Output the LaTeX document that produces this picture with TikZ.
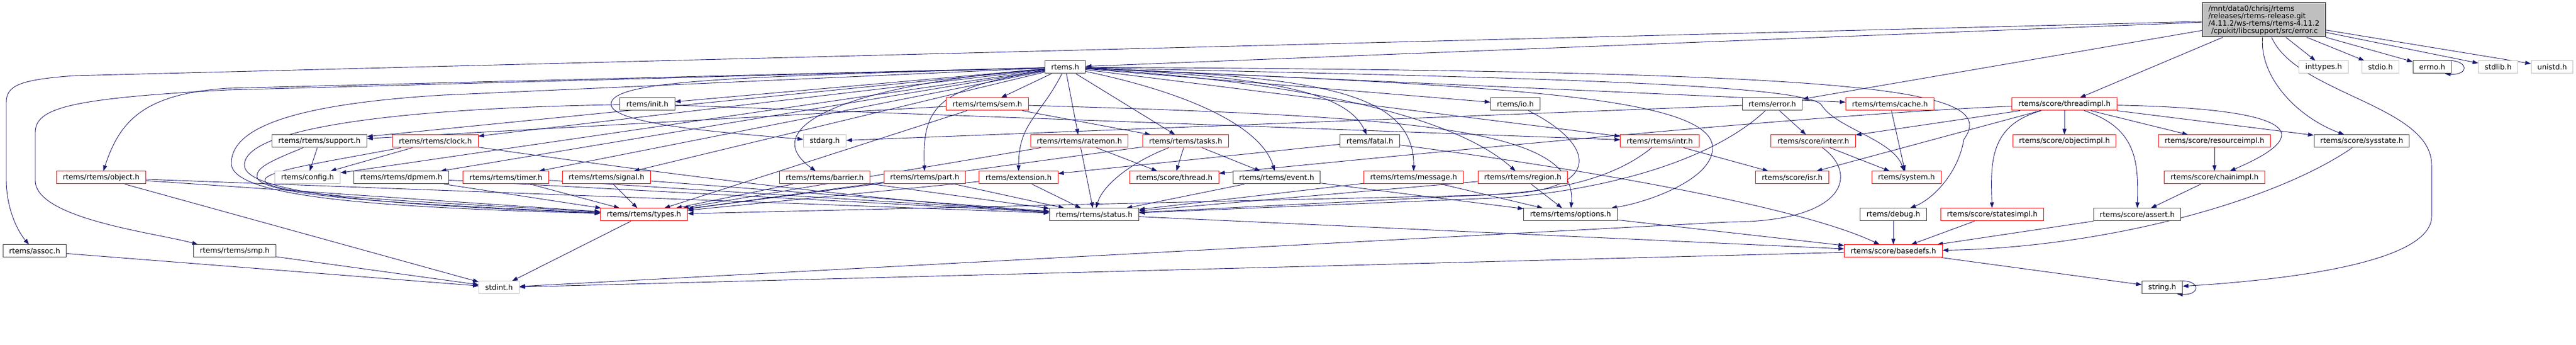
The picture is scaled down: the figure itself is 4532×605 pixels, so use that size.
\documentclass[tikz,border=0pt]{standalone}
\usepackage{fontspec}
\setmainfont{DejaVu Sans}
\usetikzlibrary{arrows.meta}
\usetikzlibrary{backgrounds}

\definecolor{depblue}{HTML}{191970}

\begin{document}
\begin{tikzpicture}[x=1pt, y=1pt,
    hdrbox/.style={rectangle, draw, fill=white, line width=1pt, minimum height=22pt, inner xsep=11pt, inner ysep=0pt, font=\fontsize{12.8}{13}\selectfont},
    redbox/.style={hdrbox, draw=red},
    blackbox/.style={hdrbox, draw=black!75},
    sysbox/.style={hdrbox, draw=black!25},
    dep/.style={draw=depblue, line width=0.9pt, -{Triangle[length=10pt, width=7pt]}}]

    \useasboundingbox (0,0) rectangle (4532,605);

    % Nodes
    \node[hdrbox, draw=black, fill=black!25, align=left, minimum width=216pt, minimum height=60pt] (errorc) at (3983,570)
      {/mnt/data0/chrisj/rtems\\/releases/rtems-release.git\\/4.11.2/ws-rtems/rtems-4.11.2\\\hspace*{5pt}/cpukit/libcsupport/src/error.c};

    \node[blackbox] (rtemsh) at (1874,487) {rtems.h};
    \node[sysbox] (inttypesh) at (4088,487) {inttypes.h};
    \node[sysbox] (stdioh) at (4188,487) {stdio.h};
    \node[blackbox] (errnoh) at (4279,487) {errno.h};
    \node[sysbox] (stdlibh) at (4395,487) {stdlib.h};
    \node[sysbox] (unistdh) at (4490,487) {unistd.h};

    \node[blackbox] (inith) at (1139,422) {rtems/init.h};
    \node[redbox] (semh) at (1737,422) {rtems/rtems/sem.h};
    \node[blackbox] (ioh) at (2666,422) {rtems/io.h};
    \node[blackbox] (errorh) at (3118,422) {rtems/error.h};
    \node[redbox] (cacheh) at (3325,422) {rtems/rtems/cache.h};
    \node[redbox] (threadimplh) at (3632,422) {rtems/score/threadimpl.h};

    \node[blackbox] (supporth) at (562,357) {rtems/rtems/support.h};
    \node[redbox] (clockh) at (766,357) {rtems/rtems/clock.h};
    \node[sysbox] (stdargh) at (1451,357) {stdarg.h};
    \node[redbox] (ratemonh) at (1899,357) {rtems/rtems/ratemon.h};
    \node[redbox] (tasksh) at (2086,357) {rtems/rtems/tasks.h};
    \node[blackbox] (fatalh) at (2410,357) {rtems/fatal.h};
    \node[redbox] (intrh) at (2920,357) {rtems/rtems/intr.h};
    \node[redbox] (interrh) at (3190,357) {rtems/score/interr.h};
    \node[redbox] (objectimplh) at (3632,357) {rtems/score/objectimpl.h};
    \node[redbox] (resourceimplh) at (3896,357) {rtems/score/resourceimpl.h};
    \node[blackbox] (sysstateh) at (4155,357) {rtems/score/sysstate.h};

    \node[redbox] (objecth) at (178,293) {rtems/rtems/object.h};
    \node[sysbox] (configh) at (541,293) {rtems/config.h};
    \node[blackbox] (dpmemh) at (706,293) {rtems/rtems/dpmem.h};
    \node[redbox] (timerh) at (890,293) {rtems/rtems/timer.h};
    \node[redbox] (signalh) at (1067,293) {rtems/rtems/signal.h};
    \node[redbox] (barrierh) at (1451,293) {rtems/rtems/barrier.h};
    \node[redbox] (parth) at (1627,293) {rtems/rtems/part.h};
    \node[redbox] (extensionh) at (1792,293) {rtems/extension.h};
    \node[redbox] (threadh) at (2066,293) {rtems/score/thread.h};
    \node[blackbox] (eventh) at (2246,293) {rtems/rtems/event.h};
    \node[redbox] (messageh) at (2487,293) {rtems/rtems/message.h};
    \node[redbox] (regionh) at (2679,293) {rtems/rtems/region.h};
    \node[redbox] (isrh) at (3153,293) {rtems/score/isr.h};
    \node[redbox] (systemh) at (3354,293) {rtems/system.h};
    \node[redbox] (chainimplh) at (3896,293) {rtems/score/chainimpl.h};

    \node[redbox] (typesh) at (1133,228) {rtems/rtems/types.h};
    \node[blackbox] (statush) at (1925,228) {rtems/rtems/status.h};
    \node[blackbox] (optionsh) at (2763,228) {rtems/rtems/options.h};
    \node[blackbox] (debugh) at (3331,228) {rtems/debug.h};
    \node[redbox] (statesimplh) at (3505,228) {rtems/score/statesimpl.h};
    \node[blackbox] (asserth) at (3760,228) {rtems/score/assert.h};

    \node[blackbox] (assoch) at (61,164) {rtems/assoc.h};
    \node[blackbox] (smph) at (413,164) {rtems/rtems/smp.h};
    \node[redbox] (basedefsh) at (3331,164) {rtems/score/basedefs.h};

    \node[sysbox] (stdinth) at (878,100) {stdint.h};
    \node[blackbox] (stringh) at (3804,100) {string.h};

    % Includes
    \begin{scope}[on background layer]
      % error.c
      \draw[dep] (errorc) -- (rtemsh);
      \draw[dep] (errorc) -- (errorh);
      \draw[dep] (errorc) -- (threadimplh);
      \draw[dep] (errorc) -- (inttypesh);
      \draw[dep] (errorc) -- (stdioh);
      \draw[dep] (errorc) -- (errnoh);
      \draw[dep] (errorc) -- (stdlibh);
      \draw[dep] (errorc) -- (unistdh);
      \draw[dep] (errorc) .. controls (3975,470) and (4040,400) .. (sysstateh);
      \draw[dep] (errorc) .. controls (4040,440) and (4278,420) .. (4278,315) -- (4278,225) .. controls (4278,140) and (4000,112) .. (stringh);
      \draw[dep] (errorc) -- (130,472) .. controls (35,465) and (11,455) .. (11,425) -- (11,290) .. controls (11,240) and (30,200) .. (assoch);
      \draw[dep] ([xshift=-14pt]errnoh.north east) .. controls (4345,502) and (4345,472) .. ([xshift=-12pt]errnoh.south east);
      \draw[dep] ([xshift=-6pt]stringh.north east) .. controls (3872,114) and (3872,86) .. ([xshift=-10pt]stringh.south east);

      % rtems.h
      \draw[dep] (rtemsh) -- (inith);
      \draw[dep] (rtemsh) -- (semh);
      \draw[dep] (rtemsh) -- (ioh);
      \draw[dep] (rtemsh) -- (cacheh);
      \draw[dep] (rtemsh) -- (supporth);
      \draw[dep] (rtemsh) -- (clockh);
      \draw[dep] (rtemsh) -- (configh);
      \draw[dep] (rtemsh) -- (dpmemh);
      \draw[dep] (rtemsh) -- (timerh);
      \draw[dep] (rtemsh) -- (signalh);
      \draw[dep] (rtemsh) -- (ratemonh);
      \draw[dep] (rtemsh) -- (tasksh);
      \draw[dep] (rtemsh) -- (intrh);
      \draw[dep] (rtemsh) -- (400,450) .. controls (250,440) and (210,390) .. (objecth);
      \draw[dep] (rtemsh) -- (400,447) .. controls (120,432) and (62,415) .. (62,372) -- (62,288) .. controls (62,220) and (280,195) .. ([xshift=8pt]smph.north west);
      \draw[dep] (rtemsh) -- (780,438) .. controls (480,420) and (407,370) .. (407,318) .. controls (407,255) and (700,240) .. (typesh);
      \draw[dep] (rtemsh) .. controls (1300,470) and (1075,465) .. (1075,422) .. controls (1075,385) and (1300,370) .. (stdargh);
      \draw[dep] (rtemsh) .. controls (1480,455) and (1330,380) .. (barrierh);
      \draw[dep] (rtemsh) .. controls (1650,450) and (1622,420) .. (parth);
      \draw[dep] (rtemsh) .. controls (1830,400) and (1792,390) .. (extensionh);
      \draw[dep] (rtemsh) .. controls (2100,440) and (2220,380) .. (eventh);
      \draw[dep] (rtemsh) .. controls (2250,470) and (2370,440) .. (fatalh);
      \draw[dep] (rtemsh) .. controls (2300,470) and (2488,450) .. (messageh);
      \draw[dep] (rtemsh) .. controls (2300,460) and (2560,400) .. (regionh);
      \draw[dep] (rtemsh) .. controls (2600,470) and (3180,460) .. (3205,420) .. controls (3230,380) and (3330,360) .. (systemh);
      \draw[dep] (rtemsh) .. controls (3300,480) and (3520,450) .. (3455,360) .. controls (3445,300) and (3400,255) .. (debugh);
      \draw[dep] (rtemsh) .. controls (2600,455) and (3013,440) .. (3013,345) .. controls (3013,290) and (2900,250) .. (optionsh);

      % sem.h, ratemon.h, tasks.h
      \draw[dep] (semh) -- (supporth);
      \draw[dep] (semh) -- (tasksh);
      \draw[dep] (semh) -- (typesh);
      \draw[dep] (semh) .. controls (2500,400) and (2775,380) .. (optionsh);
      \draw[dep] (ratemonh) -- (statush);
      \draw[dep] (ratemonh) -- (threadh);
      \draw[dep] (ratemonh) -- (typesh);
      \draw[dep] (tasksh) -- (threadh);
      \draw[dep] (tasksh) -- (eventh);
      \draw[dep] (tasksh) -- (typesh);
      \draw[dep] (tasksh) .. controls (1990,320) and (1940,280) .. (statush);

      % fatal.h, io.h, intr.h, init.h
      \draw[dep] (fatalh) -- (extensionh);
      \draw[dep] (fatalh) .. controls (2700,320) and (3150,250) .. (basedefsh);
      \draw[dep] (ioh) .. controls (2810,350) and (2815,275) .. (2660,265) -- (statush);
      \draw[dep] (intrh) -- (isrh);
      \draw[dep] (intrh) .. controls (2850,300) and (2760,268) .. (2600,262) -- (typesh);
      \draw[dep] (inith) -- (intrh);
      \draw[dep] (inith) .. controls (700,415) and (430,380) .. (430,315) .. controls (430,258) and (760,242) .. (typesh);

      % error.h
      \draw[dep] (errorh) -- (stdargh);
      \draw[dep] (errorh) -- (interrh);
      \draw[dep] (errorh) .. controls (3020,330) and (2850,275) .. (2650,258) -- (statush);

      % threadimpl.h
      \draw[dep] (threadimplh) -- (objectimplh);
      \draw[dep] (threadimplh) -- (resourceimplh);
      \draw[dep] (threadimplh) -- (sysstateh);
      \draw[dep] (threadimplh) -- (interrh);
      \draw[dep] (threadimplh) -- (isrh);
      \draw[dep] (threadimplh) .. controls (3200,405) and (2500,335) .. (threadh);
      \draw[dep] (threadimplh) .. controls (3500,385) and (3502,320) .. (statesimplh);
      \draw[dep] (threadimplh) .. controls (3760,380) and (3762,320) .. (asserth);
      \draw[dep] (threadimplh) .. controls (4000,415) and (4100,380) .. (chainimplh);

      % score headers
      \draw[dep] (interrh) -- (systemh);
      \draw[dep] (interrh) .. controls (3270,300) and (3250,215) .. (3040,215) -- (stdinth);
      \draw[dep] (cacheh) -- (systemh);
      \draw[dep] (resourceimplh) -- (chainimplh);
      \draw[dep] (chainimplh) -- (asserth);
      \draw[dep] (sysstateh) .. controls (4000,250) and (3700,170) .. (basedefsh);

      % support.h, clock.h
      \draw[dep] (supporth) -- (configh);
      \draw[dep] (supporth) .. controls (470,320) and (452,310) .. (452,295) .. controls (452,258) and (750,245) .. (typesh);
      \draw[dep] (clockh) -- (configh);
      \draw[dep] (clockh) .. controls (560,318) and (466,305) .. (466,288) .. controls (466,260) and (800,248) .. (typesh);
      \draw[dep] (clockh) .. controls (1100,310) and (1500,255) .. (statush);

      % manager headers
      \draw[dep] (objecth) -- (typesh);
      \draw[dep] (objecth) -- (statush);
      \draw[dep] (objecth) -- (stdinth);
      \draw[dep] (dpmemh) -- (typesh);
      \draw[dep] (dpmemh) -- (statush);
      \draw[dep] (timerh) -- (typesh);
      \draw[dep] (timerh) -- (statush);
      \draw[dep] (signalh) -- (typesh);
      \draw[dep] (signalh) -- (statush);
      \draw[dep] (barrierh) -- (typesh);
      \draw[dep] (barrierh) -- (statush);
      \draw[dep] (parth) -- (typesh);
      \draw[dep] (parth) -- (statush);
      \draw[dep] (extensionh) -- (typesh);
      \draw[dep] (extensionh) -- (statush);
      \draw[dep] (eventh) -- (statush);
      \draw[dep] (eventh) -- (optionsh);
      \draw[dep] (messageh) -- (statush);
      \draw[dep] (messageh) -- (optionsh);
      \draw[dep] (regionh) -- (statush);
      \draw[dep] (regionh) -- (optionsh);

      % bottom rows
      \draw[dep] (typesh) -- (stdinth);
      \draw[dep] (statush) -- (basedefsh);
      \draw[dep] (optionsh) -- (basedefsh);
      \draw[dep] (debugh) -- (basedefsh);
      \draw[dep] (statesimplh) -- (basedefsh);
      \draw[dep] (asserth) -- (basedefsh);
      \draw[dep] (basedefsh) -- (stdinth);
      \draw[dep] (basedefsh) -- (stringh);
      \draw[dep] (assoch) -- (stdinth);
      \draw[dep] (smph) -- (stdinth);
    \end{scope}

\end{tikzpicture}
\end{document}
